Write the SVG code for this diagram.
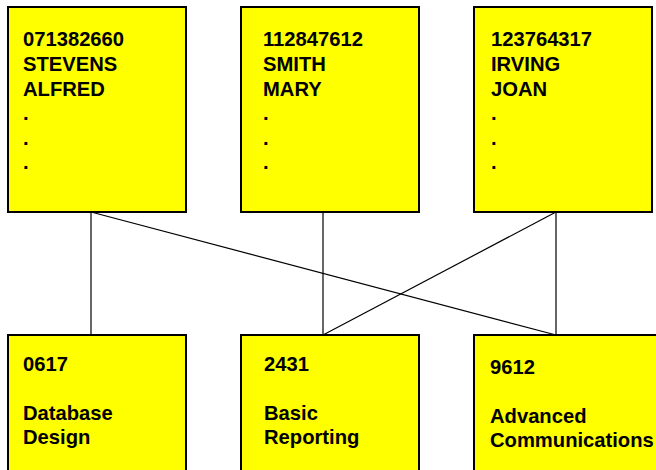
<svg xmlns="http://www.w3.org/2000/svg" width="656" height="470" viewBox="0 0 656 470">
<style>
.box{fill:#ffff00;stroke:#000;stroke-width:2}
.t{font-family:"Liberation Sans",Arial,sans-serif;font-weight:bold;font-size:20.2px;fill:#000}
.c{stroke:#000;stroke-width:1.2;fill:none}
</style>
<rect width="656" height="470" fill="#fff"/>
<g id="connectors">
<line class="c" x1="91" y1="212" x2="91" y2="335"/>
<line class="c" x1="91" y1="212" x2="556" y2="335"/>
<line class="c" x1="323" y1="212" x2="323" y2="335"/>
<line class="c" x1="556" y1="212" x2="556" y2="335"/>
<line class="c" x1="556" y1="212" x2="323" y2="335"/>
</g>
<g id="student1">
<rect class="box" x="8" y="7" width="178" height="205"/>
<text class="t" x="23" y="45.5">071382660</text>
<text class="t" x="23" y="70.5">STEVENS</text>
<text class="t" x="23" y="95.5">ALFRED</text>
<text class="t" x="23" y="120">.</text>
<text class="t" x="23" y="145">.</text>
<text class="t" x="23" y="169">.</text>
</g>
<g id="student2">
<rect class="box" x="241" y="7" width="178" height="205"/>
<text class="t" x="263" y="45.5">112847612</text>
<text class="t" x="263" y="70.5">SMITH</text>
<text class="t" x="263" y="95.5">MARY</text>
<text class="t" x="263" y="120">.</text>
<text class="t" x="263" y="145">.</text>
<text class="t" x="263" y="169">.</text>
</g>
<g id="student3">
<rect class="box" x="474" y="7" width="178" height="205"/>
<text class="t" x="491" y="45.5">123764317</text>
<text class="t" x="491" y="70.5">IRVING</text>
<text class="t" x="491" y="95.5">JOAN</text>
<text class="t" x="491" y="120">.</text>
<text class="t" x="491" y="145">.</text>
<text class="t" x="491" y="169">.</text>
</g>
<g id="course1">
<rect class="box" x="8" y="335" width="178" height="150"/>
<text class="t" x="23" y="371">0617</text>
<text class="t" x="23" y="420">Database</text>
<text class="t" x="23" y="444">Design</text>
</g>
<g id="course2">
<rect class="box" x="241" y="335" width="178" height="150"/>
<text class="t" x="264" y="371">2431</text>
<text class="t" x="264" y="420">Basic</text>
<text class="t" x="264" y="444">Reporting</text>
</g>
<g id="course3">
<rect class="box" x="474" y="335" width="190" height="150"/>
<text class="t" x="490" y="374">9612</text>
<text class="t" x="490" y="423">Advanced</text>
<text class="t" x="490" y="447">Communications</text>
</g>
</svg>
